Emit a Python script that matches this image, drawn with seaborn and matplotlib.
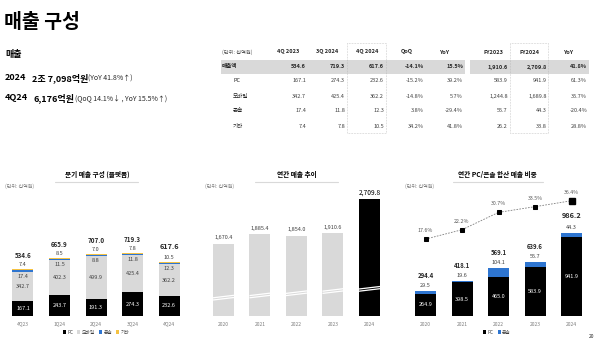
import numpy as np
import matplotlib
matplotlib.use("Agg")
import matplotlib.pyplot as plt
from matplotlib.patches import Rectangle, Patch
import seaborn as sns

# ---------------- data (KRW bn) ----------------
quarters = ["4Q23", "1Q24", "2Q24", "3Q24", "4Q24"]
q_pc = [167.1, 243.7, 191.3, 274.3, 232.6]
q_mobile = [342.7, 402.3, 499.9, 425.4, 362.2]
q_console = [17.4, 11.5, 8.8, 11.8, 12.3]
q_other = [7.4, 8.5, 7.0, 7.8, 10.5]
q_total = [534.6, 665.9, 707.0, 719.3, 617.6]

years = ["2020", "2021", "2022", "2023", "2024"]
y_total = [1670.4, 1885.4, 1854.0, 1910.6, 2709.8]

y_pc = [264.9, 398.5, 465.0, 583.9, 941.9]
y_console = [29.5, 19.6, 104.1, 55.7, 44.3]
y_pc_console = [294.4, 418.1, 569.1, 639.6, 986.2]
y_share = [17.6, 22.2, 30.7, 33.5, 36.4]

table_header = ["4Q 2023", "3Q 2024", "4Q 2024", "QoQ", "YoY", "FY2023", "FY2024", "YoY"]
table_labels = ["매출액", "PC", "모바일", "콘솔", "기타"]
table_values = [
    ["534.6", "719.3", "617.6", "-14.1%", "15.5%", "1,910.6", "2,709.8", "41.8%"],
    ["167.1", "274.3", "232.6", "-15.2%", "39.2%", "583.9", "941.9", "61.3%"],
    ["342.7", "425.4", "362.2", "-14.8%", "5.7%", "1,244.8", "1,689.8", "35.7%"],
    ["17.4", "11.8", "12.3", "3.8%", "-29.4%", "55.7", "44.3", "-20.4%"],
    ["7.4", "7.8", "10.5", "34.2%", "41.8%", "26.2", "33.8", "28.8%"],
]

# ---------------- style ----------------
sns.set_style("white")
plt.rcParams["font.family"] = ["Noto Sans CJK KR", "DejaVu Sans"]

BLACK = "#000000"
GRAY = "#D9D9D9"
BLUE = "#2E75D0"
YELLOW = "#F5C242"
TXT = "#262626"
MID = "#404040"
LIGHT = "#7F7F7F"
PX = 0.72  # points per pixel at 100 dpi

W, H = 600, 344
fig = plt.figure(figsize=(W / 100, H / 100), dpi=100)

page = fig.add_axes([0, 0, 1, 1], zorder=0)
page.set_xlim(0, W)
page.set_ylim(H, 0)
page.axis("off")


def axes_px(left, right, top, bottom):
    ax = fig.add_axes([left / W, 1 - bottom / H, (right - left) / W, (bottom - top) / H], zorder=1)
    ax.set_facecolor("none")
    return ax


# ---------------- headline text ----------------
page.text(4, 23, "매출 구성", fontsize=14, fontweight="bold", color=BLACK, va="center", ha="left")
page.text(5, 55, "매출", fontsize=6.5, fontweight="bold", color=BLACK, va="center")
page.text(5, 78, "2024", fontsize=6.5, fontweight="bold", color=BLACK, va="center")
page.text(32.5, 78, "2조 7,098억원", fontsize=6.5, fontweight="bold", color=BLACK, va="center")
page.text(88, 78.5, "(YoY 41.8%↑)", fontsize=5.0, color=TXT, va="center")
page.text(5, 98, "4Q24", fontsize=6.5, fontweight="bold", color=BLACK, va="center")
page.text(33, 98, "6,176억원", fontsize=6.5, fontweight="bold", color=BLACK, va="center")
page.text(75, 98.5, "(QoQ 14.1%↓ , YoY 15.5%↑)", fontsize=5.0, color=TXT, va="center")

# ---------------- summary table ----------------
head_x = [288, 327, 367, 407, 445, 493, 530, 569]
val_right = [306, 345, 384, 424, 463, 508, 547, 587]
row_y = [67, 81, 96.5, 111, 126]

page.add_patch(Rectangle((221, 60), 244, 14, facecolor=GRAY, edgecolor="none"))
page.add_patch(Rectangle((470, 60), 119, 14, facecolor=GRAY, edgecolor="none"))
for x0, x1 in [(347, 386), (510, 548)]:
    page.add_patch(Rectangle((x0, 43), x1 - x0, 90, facecolor="none", edgecolor="#B0B0B0",
                             lw=0.45, linestyle=(0, (1, 1.5))))

page.text(222, 52, "(단위: 십억원)", fontsize=3.8, color="#595959", va="center", ha="left")
for hx, h in zip(head_x, table_header):
    page.text(hx, 52, h, fontsize=4.0, fontweight="bold", color=TXT, va="center", ha="center")

for r, (lab, vals) in enumerate(zip(table_labels, table_values)):
    bold = r == 0
    page.text(222 if bold else 233, row_y[r], lab, fontsize=4.0,
              fontweight="bold" if bold else "normal", color=TXT, va="center", ha="left")
    for vx, v in zip(val_right, vals):
        page.text(vx, row_y[r], v, fontsize=4.0, fontweight="bold" if bold else "normal",
                  color=TXT if bold else MID, va="center", ha="right")

# ---------------- chart titles ----------------
for cx, ux0, ux1, title, left in [
    (97, 55, 138, "분기 매출 구성 (플랫폼)", 5),
    (297, 255, 338, "연간 매출 추이", 205),
    (497, 453, 543, "연간 PC/콘솔 합산 매출 비중", 405),
]:
    page.text(cx, 174, title, fontsize=4.8, fontweight="bold", color=BLACK, ha="center", va="center")
    page.plot([ux0, ux1], [182, 182], color=GRAY, lw=0.8)
    page.text(left, 186.5, "(단위: 십억원)", fontsize=3.6, color=LIGHT, ha="left", va="center")

page.text(592, 337, "20", fontsize=3.6, color=TXT, ha="center", va="center")

BAR_W = 21 / 36.5


def style_axis(ax, xlim, ylim):
    ax.set_xlim(*xlim)
    ax.set_ylim(*ylim)
    ax.set_yticks([])
    ax.set_xlabel("")
    ax.set_ylabel("")
    for s in ax.spines.values():
        s.set_visible(False)
    ax.tick_params(axis="x", length=0, pad=4, labelsize=3.6, labelcolor=LIGHT)
    ax.axhline(0, color=GRAY, lw=0.7, zorder=0)


def label(ax, x, y, text, dy_px, size=4.0, color=MID, weight="normal"):
    ax.annotate(text, xy=(x, y), xytext=(0, dy_px * PX), textcoords="offset points",
                ha="center", va="center", fontsize=size, color=color, fontweight=weight)


# ---------------- chart 1: quarterly platform mix ----------------
ax1 = axes_px(2, 188, 180, 316)
c_console = np.add(np.add(q_pc, q_mobile), q_console)
c_mobile = np.add(q_pc, q_mobile)
layers = [(q_total, YELLOW), (c_console, BLUE), (c_mobile, GRAY), (q_pc, BLACK)]
for vals, col in layers:
    sns.barplot(x=quarters, y=vals, color=col, saturation=1, width=BAR_W,
                errorbar=None, linewidth=0, ax=ax1)
style_axis(ax1, (-0.575, 4.52), (0, 136 / 0.087))

for i in range(len(quarters)):
    last = i == len(quarters) - 1
    label(ax1, i, q_total[i], f"{q_total[i]:.1f}", 14 if not last else 16,
          size=4.5 if not last else 5.3, color=TXT, weight="bold")
    label(ax1, i, q_total[i], f"{q_other[i]:.1f}", 4.5)
    label(ax1, i, c_mobile[i], f"{q_console[i]:.1f}", -4.5)
    label(ax1, i, q_pc[i] + q_mobile[i] / 2, f"{q_mobile[i]:.1f}", 0)
    label(ax1, i, q_pc[i] / 2, f"{q_pc[i]:.1f}", 0, color="white")

leg1 = [Patch(facecolor=c, edgecolor="none", label=l)
        for c, l in [(BLACK, "PC"), (GRAY, "모바일"), (BLUE, "콘솔"), (YELLOW, "기타")]]
ax1.legend(handles=leg1, loc="center", bbox_to_anchor=(96 / W, 1 - 332 / H),
           bbox_transform=fig.transFigure, ncol=4, frameon=False, fontsize=3.4,
           handlelength=0.7, handleheight=0.7, handletextpad=0.3, columnspacing=0.8,
           labelcolor=MID)

# ---------------- chart 2: annual revenue ----------------
ax2 = axes_px(202, 388, 180, 316)
sns.barplot(x=years, y=y_total, palette=[GRAY] * 4 + [BLACK], hue=years, legend=False,
            saturation=1, width=BAR_W, errorbar=None, linewidth=0, ax=ax2)
style_axis(ax2, (-0.589, 4.507), (0, 136 / 0.0433))
for i, v in enumerate(y_total):
    last = i == len(y_total) - 1
    label(ax2, i, v, f"{v:,.1f}", 6, size=4.8 if last else 4.0, color=BLACK if last else MID)

# axis-break marks near the bottom of each bar
brk = ax2.get_xaxis_transform()
for i in range(len(years)):
    base = (316 - (300 - 2.2 * i)) / 136
    for off in (0.0, 2.2 / 136):
        ax2.plot([i - BAR_W / 2, i + BAR_W / 2], [base + off, base + off + 2.5 / 136],
                 color="white", lw=0.9, transform=brk, solid_capstyle="butt", zorder=3)

# ---------------- chart 3: PC + console revenue and share ----------------
ax3 = axes_px(402, 588, 180, 316)
sns.barplot(x=years, y=y_pc_console, color=BLUE, saturation=1, width=BAR_W,
            errorbar=None, linewidth=0, ax=ax3)
sns.barplot(x=years, y=y_pc, color=BLACK, saturation=1, width=BAR_W,
            errorbar=None, linewidth=0, ax=ax3)
style_axis(ax3, (-0.644, 4.45), (0, 136 / 0.0842))
for i in range(len(years)):
    last = i == len(years) - 1
    label(ax3, i, y_pc_console[i], f"{y_pc_console[i]:.1f}", 15.5 if not last else 17,
          size=4.3 if not last else 5.3, color=TXT, weight="bold")
    label(ax3, i, y_pc_console[i], f"{y_console[i]:.1f}", 5.5)
    label(ax3, i, y_pc[i] / 2, f"{y_pc[i]:.1f}", 0, color="white")

ax3b = ax3.twinx()
ax3b.set_facecolor("none")
sns.lineplot(x=np.arange(len(years)), y=y_share, ax=ax3b, color="#7F7F7F", lw=0.6,
             linestyle=(0, (2, 1.5)), marker="s", markersize=2.6,
             markerfacecolor=BLACK, markeredgecolor=BLACK)
ax3b.plot([len(years) - 1], [y_share[-1]], marker="s", markersize=4.5, color=BLACK, ls="none")
ax3b.set_ylim((275 - 316) / 2.04, (275 - 180) / 2.04)
ax3b.set_yticks([])
ax3b.set_ylabel("")
for s in ax3b.spines.values():
    s.set_visible(False)
for i, v in enumerate(y_share):
    ax3b.annotate(f"{v:.1f}%", xy=(i, v), xytext=(0, 8.5 * PX), textcoords="offset points",
                  ha="center", va="center", fontsize=3.8, color="#595959")

leg3 = [Patch(facecolor=c, edgecolor="none", label=l) for c, l in [(BLACK, "PC"), (BLUE, "콘솔")]]
ax3.legend(handles=leg3, loc="center", bbox_to_anchor=(497 / W, 1 - 332 / H),
           bbox_transform=fig.transFigure, ncol=2, frameon=False, fontsize=3.4,
           handlelength=0.7, handleheight=0.7, handletextpad=0.3, columnspacing=0.8,
           labelcolor=MID)

fig.savefig("out.png", dpi=100)
